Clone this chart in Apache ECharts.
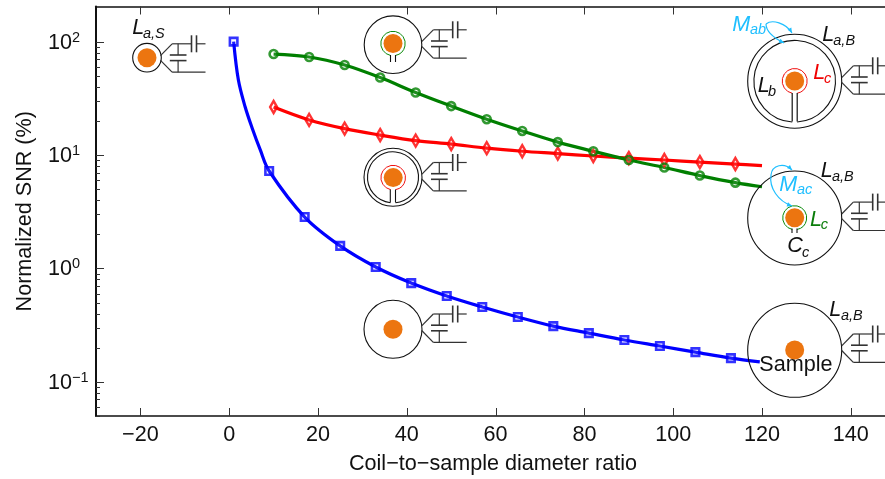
<!DOCTYPE html>
<html><head><meta charset="utf-8">
<style>html,body{margin:0;padding:0;background:#fff}#c{width:885px;height:479px}</style>
<script src="https://cdn.jsdelivr.net/npm/echarts@6/dist/echarts.min.js"></script>
</head><body><div id="c"></div>
<script>
const xTicks = [-20,0,20,40,60,80,100,120,140];
const yMajorTicks = [0.1,1,10,100];
const yExponents = {0.1:'\u22121',1:'0',10:'1',100:'2'};
const yMinorTicks = [0.05,0.06,0.07,0.08,0.09,0.2,0.3,0.4,0.5,0.6,0.7,0.8,0.9,2,3,4,5,6,7,8,9,20,30,40,50,60,70,80,90];

const blueRatio = [1,9,17,25,33,41,49,57,65,73,81,89,97,105,113];
const blueSNR = [100,7.23,2.84,1.58,1.03,0.743,0.571,0.457,0.373,0.31,0.269,0.234,0.207,0.183,0.162];
const blueBendRatio = [2.07,3.6,5.1,7,119.5];
const blueBendSNR = [45.8,26.5,17.6,11.1,0.15];

const greenRatio = [10,18,26,34,42,50,58,66,74,82,90,98,106,114];
const greenSNR = [77.7,73.2,62.2,48.2,35.6,27,20.7,16.3,13,10.8,9.04,7.76,6.59,5.71];
const greenEndRatio = [120];
const greenEndSNR = [5.25];

const redRatio = [10,18,26,34,42,50,58,66,74,82,90,98,106,114];
const redSNR = [26.5,20.4,17.1,15,13.4,12.5,11.5,10.8,10.3,9.8,9.4,9.04,8.67,8.33];
const redEndRatio = [120];
const redEndSNR = [8.07];

const FONT = '"Liberation Sans", Arial, sans-serif';
const ORANGE = '#ec7510', CYAN = '#1fbfff', INK = '#111', TICK = '#333';
const X_MIN = -30, X_MAX = 147.7, Y_MIN = 0.05, Y_MAX = 204;
const G_LEFT = 96, G_TOP = 6.5, G_BOTTOM = 416, G_RIGHT = 885;

function pairs(xs, ys){ return xs.map((x,i)=>[x,ys[i]]); }
function curve(xs, ys, xe, ye){ return pairs(xs,ys).concat(pairs(xe,ye)).sort((a,b)=>a[0]-b[0]); }

function lineSeries(name, color, data){
  return {name, type:'line', data, smooth:0.35, showSymbol:false, symbol:'none', z:3,
    lineStyle:{color, width:3.2}, itemStyle:{color}, silent:true, animation:false};
}
function markSeries(name, color, data, symbol, size){
  return {name:name+' markers', type:'scatter', data, symbol, symbolSize:size, z:4, silent:true, animation:false,
    itemStyle:{color:'rgba(255,255,255,0.15)', borderColor:color, borderWidth:2.6}};
}

const gfx = [];
function stroke(c,w){ return {stroke:c||INK, lineWidth:w||1.1, fill:null}; }
function circle(cx,cy,r,c,w){ gfx.push({type:'circle', z:10, shape:{cx,cy,r}, style:stroke(c,w)}); }
function dot(cx,cy){ gfx.push({type:'circle', z:11, shape:{cx,cy,r:9.5}, style:{fill:ORANGE}}); }
function gapRing(cx,cy,r,halfGap,c,w){
  gfx.push({type:'arc', z:10, shape:{cx,cy,r,startAngle:Math.PI/2+halfGap,endAngle:Math.PI/2-halfGap+2*Math.PI,clockwise:true}, style:stroke(c,w)});
}
function seg(x1,y1,x2,y2,c,w){ gfx.push({type:'line', z:10, shape:{x1,y1,x2,y2}, style:stroke(c||TICK,w||1.2)}); }
function net(x,y){
  seg(x,y-2.3,x+11.6,y-14.2); seg(x,y+2.3,x+11.6,y+14.2);
  seg(x+11.6,y-14.2,x+31,y-14.2); seg(x+36,y-14.2,x+45,y-14.2);
  seg(x+31,y-22.7,x+31,y-5.7,TICK,1.6); seg(x+36,y-22.7,x+36,y-5.7,TICK,1.6);
  seg(x+11.6,y+14.2,x+45,y+14.2);
  seg(x+17.6,y-14.2,x+17.6,y-3); seg(x+17.6,y+2.6,x+17.6,y+14.2);
  seg(x+9.3,y-3,x+26,y-3,TICK,1.6); seg(x+9.3,y+2.6,x+26,y+2.6,TICK,1.6);
}
function txt(x,y,text,size,color,italic){
  gfx.push({type:'text', z:12, x, y, style:{text, fill:color||INK, font:(italic?'italic ':'')+size+'px '+FONT, verticalAlign:'bottom', align:'left'}});
}
function sym(x,y,main,sx,sy,sub,color){
  txt(x,y+5,main,21.6,color,true);
  txt(sx,sy+3.5,sub,14.5,color,true);
}
function bez(x1,y1,cpx1,cpy1,cpx2,cpy2,x2,y2){
  gfx.push({type:'bezierCurve', z:12, shape:{x1,y1,cpx1,cpy1,cpx2,cpy2,x2,y2}, style:stroke(CYAN,1.2)});
  const a=Math.atan2(y2-cpy2,x2-cpx2), L=5, W=2.2;
  gfx.push({type:'polygon', z:12, shape:{points:[[x2,y2],
    [x2-L*Math.cos(a)-W*Math.sin(a),y2-L*Math.sin(a)+W*Math.cos(a)],
    [x2-L*Math.cos(a)+W*Math.sin(a),y2-L*Math.sin(a)-W*Math.cos(a)]]}, style:{fill:CYAN}});
}
circle(147,57.7,14.3); dot(147,57.7); net(160.5,58);
sym(132.3,34.3,'L',143,38,'a,S');
circle(393,44.7,28.8); gapRing(393,43.5,12.2,0.2,'#0a8a0a',1); dot(393,43.5);
seg(390.5,55,390.5,62,INK,1.1); seg(395.5,55,395.5,62,INK,1.1); net(421.7,44);
circle(393,177.3,29); gapRing(393,177.3,25.5,0.1,INK,1.1); gapRing(393.2,177.6,12.3,0.21,'#f01010',1); dot(393.2,177.6);
seg(390.3,189.5,390.3,202.5,INK,1.1); seg(395.5,189.5,395.5,202.5,INK,1.1); net(421.7,176.7);
circle(393,329.3,29); dot(393,329.3); net(421.7,328.2);
circle(794.7,81.2,47); gapRing(794.7,81.2,40.8,0.06,INK,1.1); gapRing(794.7,81,12.5,0.2,'#f01010',1); dot(794.7,81);
seg(792.2,93,792.2,121.5,INK,1.2); seg(797.2,93,797.2,121.5,INK,1.2); net(841.7,80);
sym(822.3,40.7,'L',833.3,45,'a,B');
sym(813.3,79,'L',824,82.7,'c','#f00000');
sym(757.7,92.3,'L',768,96,'b');
sym(732.3,31,'M',750,34.3,'ab',CYAN);
bez(766,24,772,19,786,23,792,33);
bez(766,24,766,33,776,39,784,43);
circle(794.7,218,47); gapRing(794.7,217.7,12,0.2,'#0a8a0a',1); dot(794.7,217.7);
seg(792,228.5,792,233,INK,1.1); seg(797,228.5,797,233,INK,1.1); net(841.7,216.3);
sym(820.7,176.7,'L',832,181,'a,B');
sym(810,226,'L',820.7,229,'c','#0a7d0a');
sym(787.3,251.7,'C',802,257,'c');
sym(779.3,190.7,'M',797,194,'ac',CYAN);
bez(771,175,772,165,784,162,792,170);
bez(771,175,769,188,778,201,792,206);
circle(794.7,350.3,47); dot(794.7,350); net(841.7,348.2);
sym(829.3,316,'L',841,320,'a,B');
txt(759.3,376.5,'Sample',21.6,INK,false);

/* inward ticks derived from the grid box and axis extents */
function xToPx(v){ return G_LEFT+(v-X_MIN)/(X_MAX-X_MIN)*(G_RIGHT-G_LEFT); }
function yToPx(v){ const a=Math.log10(Y_MIN), b=Math.log10(Y_MAX); return G_BOTTOM-(Math.log10(v)-a)/(b-a)*(G_BOTTOM-G_TOP); }
xTicks.forEach(v=>{ const x=Math.round(xToPx(v))+0.5; seg(x,G_BOTTOM,x,G_BOTTOM-8,TICK,1); seg(x,G_TOP,x,G_TOP+8,TICK,1); });
yMajorTicks.forEach(v=>{ const y=Math.round(yToPx(v))+0.5; seg(G_LEFT,y,G_LEFT+8,y,TICK,1); });
yMinorTicks.forEach(v=>{ const y=Math.round(yToPx(v))+0.5; seg(G_LEFT,y,G_LEFT+4,y,TICK,1); });

const labelStyle = {color:'#111', fontFamily:FONT, fontSize:21.6};
const hidden = {show:false};
const option = {
  backgroundColor:'#fff', animation:false,
  grid:{left:G_LEFT, right:885-G_RIGHT, top:G_TOP, bottom:479-G_BOTTOM, containLabel:false, outerBoundsMode:'none'},
  xAxis:[
    {type:'value', position:'bottom', min:X_MIN, max:X_MAX, splitLine:hidden,
     name:'Coil\u2212to\u2212sample diameter ratio', nameLocation:'middle', nameGap:37,
     nameTextStyle:Object.assign({},labelStyle,{padding:[0,0,0,5]}),
     axisLine:{show:true,onZero:false,lineStyle:{color:'#111',width:1.6}},
     axisTick:hidden,
     axisLabel:Object.assign({},labelStyle,{customValues:xTicks,margin:8,formatter:v=>String(v).replace('-','\u2212')})},
    {type:'value', position:'top', min:X_MIN, max:X_MAX, splitLine:hidden,
     axisLine:{show:true,onZero:false,lineStyle:{color:'#111',width:1.6}},
     axisTick:hidden, axisLabel:hidden}
  ],
  yAxis:[
    {type:'log', logBase:10, min:Y_MIN, max:Y_MAX, position:'left', splitLine:hidden, minorTick:hidden,
     name:'Normalized SNR (%)', nameLocation:'middle', nameGap:60, nameRotate:90,
     nameTextStyle:labelStyle,
     axisLine:{show:true,onZero:false,lineStyle:{color:'#111',width:2}},
     axisTick:hidden,
     axisLabel:Object.assign({},labelStyle,{customValues:yMajorTicks,margin:48,align:'left',padding:[2,0,0,0],
       formatter:v=>'10{s|'+yExponents[Math.round(v*10)/10]+'}',
       rich:{s:{fontSize:14.5,fontFamily:FONT,color:'#111',verticalAlign:'top',padding:[0,0,10,0]}}})}
  ],
  series:[
    lineSeries('Blue', '#0000ff', curve(blueRatio,blueSNR,blueBendRatio,blueBendSNR)),
    markSeries('Blue', '#0000ff', pairs(blueRatio,blueSNR), 'rect', 7.5),
    lineSeries('Red', '#ff0000', curve(redRatio,redSNR,redEndRatio,redEndSNR)),
    markSeries('Red', '#ff0000', pairs(redRatio,redSNR), 'diamond', [7,12]),
    lineSeries('Green', '#007f00', curve(greenRatio,greenSNR,greenEndRatio,greenEndSNR)),
    markSeries('Green', '#007f00', pairs(greenRatio,greenSNR), 'circle', 8)
  ],
  graphic:{elements:gfx}
};
const chart = echarts.init(document.getElementById('c'),null,{renderer:'canvas'});
chart.setOption(option);
</script></body></html>
